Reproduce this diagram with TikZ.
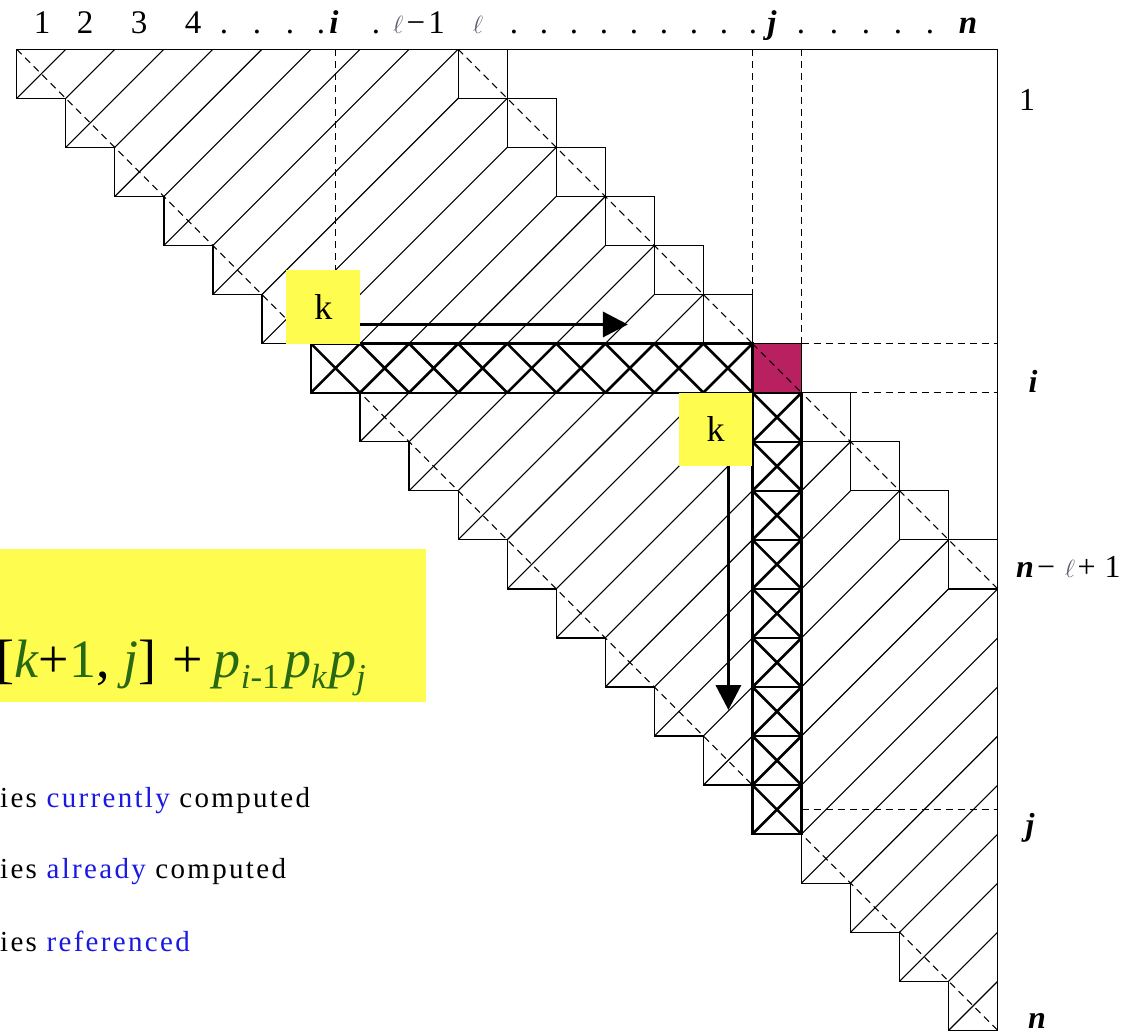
\documentclass[tikz,border=0pt]{standalone}
\usepackage{fontspec}
\setmainfont{Liberation Serif}
\newfontfamily\legendfont[LetterSpace=8]{Liberation Serif}
\usetikzlibrary{arrows.meta}
\definecolor{kyellow}{RGB}{255,252,80}
\definecolor{cellpurple}{RGB}{184,32,96}
\definecolor{fgreen}{RGB}{40,105,20}
\definecolor{lblue}{RGB}{25,25,225}
\definecolor{ellgray}{RGB}{90,90,110}
\newcommand{\ellsym}{\textcolor{ellgray}{$\ell$}}
\newcommand{\gi}[1]{\textcolor{fgreen}{\textit{#1}}}
\newcommand{\gsub}[1]{\raisebox{-0.22em}{\fontsize{35}{35}\selectfont\textcolor{fgreen}{#1}}}
\begin{document}
\begin{tikzpicture}[x=1pt,y=-1pt,
  thinline/.style={line width=1.3pt},
  hatchline/.style={line width=1.1pt},
  dashline/.style={line width=1.1pt, dash pattern=on 7pt off 5pt},
  crossline/.style={line width=2.6pt},
  crossedge/.style={line width=2.3pt},
  kbox/.style={fill=kyellow, minimum width=73.6pt, minimum height=73.6pt, inner sep=0pt, font=\fontsize{36}{36}\selectfont},
  karrow/.style={line width=3.6pt, -{Triangle[length=25pt,width=25pt]}},
  toplabel/.style={anchor=base, inner sep=0pt, font=\fontsize{33}{33}\selectfont},
  sidelabel/.style={anchor=base, inner sep=0pt, font=\fontsize{32}{32}\selectfont},
  legend/.style={anchor=base west, inner sep=0pt, font=\legendfont\fontsize{29}{29}\selectfont}]
\useasboundingbox (0,0) rectangle (1131,1033);

\begin{scope}[shift={(16.7,49.3)}, x=49.05pt, y=-49.05pt]
  % hatching of the already computed band
  \begin{scope}
    \clip (0,0) \foreach \a in {0,...,19}{ -- (\a,\a+1) -- (\a+1,\a+1) } -- (20,11)
          \foreach \q in {11,...,1}{ -- (\q+8,\q) -- (\q+8,\q-1) } -- cycle;
    \foreach \a in {1,...,39} \draw[hatchline] (\a+1,-1) -- (-1,\a+1);
  \end{scope}
  % outer frame and staircase
  \draw[thinline] (0,0) -- (20,0) -- (20,20);
  \draw[thinline] (0,0) \foreach \a in {0,...,19}{ -- (\a,\a+1) -- (\a+1,\a+1) };
  \foreach \q in {1,...,11} \draw[thinline] (\q+8,\q-1) rectangle (\q+9,\q);
  % dashed guides
  \draw[dashline] (0,0) -- (20,20);
  \draw[dashline] (9,0) -- (20,11);
  \draw[dashline] (15,0) -- (15,6);
  \draw[dashline] (16,0) -- (16,6);
  \draw[dashline] (16,6) -- (20,6);
  \draw[dashline] (16,7) -- (20,7);
  \draw[dashline] (6.5,0) -- (6.5,4.5);
  \draw[dashline] (16,15.5) -- (20,15.5);
  % current cell
  \fill[cellpurple] (15,6) rectangle (16,7);
  \draw[dashline] (15,6) -- (16,7);
  \draw[thinline] (15,6) rectangle (16,7);
  % referenced row
  \fill[white] (6,6) rectangle (15,7);
  \draw[crossedge] (6,6) rectangle (15,7);
  \foreach \c in {6,...,14} \draw[crossline] (\c,6) -- (\c+1,7) (\c,7) -- (\c+1,6);
  % referenced column
  \fill[white] (15,7) rectangle (16,16);
  \draw[crossedge] (15,7) rectangle (16,16);
  \foreach \b in {7,...,15} {
    \draw[crossline] (15,\b) -- (16,\b+1) (15,\b+1) -- (16,\b);
    \draw[crossedge] (15,\b) -- (16,\b);
  }
  % k boxes and arrows
  \node[kbox] (k1) at (6.25,5.25) {k};
  \node[kbox] (k2) at (14.25,7.75) {k};
  \coordinate (a1) at (12.46,5.61);
  \coordinate (a2) at (14.51,13.47);
  \draw[karrow] (k1.east |- a1) -- (a1);
  \draw[karrow] (k2.south -| a2) -- (a2);
\end{scope}

% column labels
\node[toplabel] (h1) at (42,34) {1};
\node[toplabel] (h2) at (85,34) {2};
\node[toplabel] (h3) at (139,34) {3};
\node[toplabel] (h4) at (193,34) {4};
\foreach \x [count=\i] in {224,257,290,321, 376, 514,544,574,604,634,664,694,724,753, 801,834,866,898,930}
  \node[toplabel] (dot\i) at (\x,34) {.};
\node[toplabel] (hi) at (334,34) {\textbf{\textit{i}}};
\node[toplabel] (hlm) at (419,34) {\ellsym\hspace{0.1em}−\hspace{0.1em}1};
\node[toplabel] (hl) at (478,34) {\ellsym};
\node[toplabel] (hj) at (772,34) {\textbf{\textit{j}}};
\node[toplabel] (hn) at (968,34) {\textbf{\textit{n}}};

% row labels
\node[sidelabel] (r1) at (1027,110) {1};
\node[sidelabel] (ri) at (1033,392) {\textbf{\textit{i}}};
\node[sidelabel, anchor=base west] (rl) at (1016,577) {\textbf{\textit{n}}\hspace{0.1em}−\hspace{0.3em}\ellsym\hspace{0.08em}+\hspace{0.28em}1};
\node[sidelabel] (rj) at (1030,835) {\textbf{\textit{j}}};
\node[sidelabel] (rn) at (1037,1028) {\textbf{\textit{n}}};

% formula box
\node[fill=kyellow, anchor=north west, minimum width=426pt, minimum height=153pt, inner sep=0pt] (fbox) at (0,549) {};
\node[anchor=base west, inner sep=0pt, font=\fontsize{54}{54}\selectfont] (formula) at (-4,677)
  {[\gi{k}+\textcolor{fgreen}{1}, \gi{j}]\hspace{0.3em}+\hspace{0.2em}\gi{p}\gsub{\textit{i}-1}\hspace{0.08em}\gi{p}\gsub{\textit{k}}\hspace{0.04em}\gi{p}\gsub{\textit{j}}};

% legend
\node[legend] (leg1) at (0,807) {ies \textcolor{lblue}{currently} computed};
\node[legend] (leg2) at (0,878) {ies \textcolor{lblue}{already} computed};
\node[legend] (leg3) at (0,951) {ies \textcolor{lblue}{referenced}};
\end{tikzpicture}
\end{document}
